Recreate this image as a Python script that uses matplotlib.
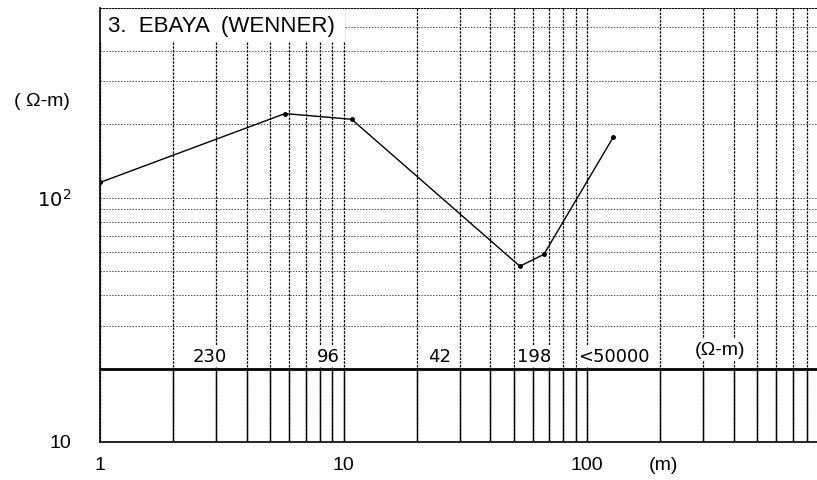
import matplotlib.pyplot as plt
from matplotlib.patches import Rectangle

# electrode spacing a (m) and apparent resistivity (ohm-m)
spacing = [1.0, 5.75, 10.8, 53.0, 66.5, 128.0]
rho_app = [115.7, 221.6, 210.0, 52.5, 58.7, 177.0]

# interpreted layer resistivities written in the strip
layer_rho = ["230", "96", "42", "198", "<50000"]
layer_pos = [2.82, 8.64, 24.9, 60.6, 129.0]

plt.rcParams['font.family'] = ['Liberation Sans', 'DejaVu Sans']

fig = plt.figure(figsize=(8.17, 4.8), dpi=100)
ax = fig.add_axes([100 / 817, 38 / 480, 717 / 817, 434 / 480])
ax.set_xscale('log')
ax.set_yscale('log')
ax.set_xlim(1, 10 ** (717 / 243.5))
ax.set_ylim(10, 600)

ax.set_axisbelow(True)
ax.grid(axis='x', which='both', color='black', ls=(0, (2, 1)), lw=0.9)
ax.grid(axis='y', which='both', color='0.3', ls=(0, (1.5, 1.5)), lw=0.7)

ax.spines['right'].set_visible(False)
ax.spines['top'].set_linestyle((0, (1.5, 1.5)))
ax.spines['top'].set_linewidth(0.7)
ax.spines['left'].set_linewidth(1.2)
ax.spines['bottom'].set_linewidth(1.2)

ax.set_xticks([1, 10, 100])
ax.set_xticklabels(['1', '10', '100'])
ax.set_yticks([10, 100])
ax.set_yticklabels(['10', r'$10^2$'])
ax.tick_params(which='both', length=0)
ax.tick_params(axis='x', pad=11, labelsize=14)
ax.tick_params(axis='y', pad=21, labelsize=14)
ax.yaxis.set_minor_formatter(plt.NullFormatter())
ax.xaxis.set_minor_formatter(plt.NullFormatter())

# layer strip: thick line at 20 and solid verticals below it
ax.axhline(20, color='black', lw=2.0, zorder=4)
xs = [v for v in list(ax.get_xticks(minor=True)) + list(ax.get_xticks())
      if 1 < v < ax.get_xlim()[1]]
ax.vlines(xs, 10, 20, color='black', lw=1.0, zorder=2)

# the curve
ax.plot(spacing, rho_app, color='black', lw=1.0, marker='o', ms=2.5, zorder=4)

# title box
ax.add_patch(Rectangle((0, 0.922), 0.342, 0.078, transform=ax.transAxes,
                       facecolor='white', edgecolor='none', zorder=1))
ax.text(0.011, 0.958, '3.  EBAYA  (WENNER)', transform=ax.transAxes,
        fontsize=16, ha='left', va='center', zorder=5)

for lab, xp in zip(layer_rho, layer_pos):
    ax.text(xp, 22.4, lab, fontsize=13, ha='center', va='center',
            family=['Liberation Sans Narrow', 'DejaVu Sans'],
            bbox=dict(facecolor='white', edgecolor='none', pad=1), zorder=3)
ax.text(352, 23.8, '(Ω-m)', fontsize=14, ha='center', va='center',
        bbox=dict(facecolor='white', edgecolor='none', pad=2), zorder=3)

fig.text(42 / 817, 1 - 101 / 480, '( Ω-m)', fontsize=14, ha='center', va='center')
fig.text(663 / 817, 1 - 466 / 480, '(m)', fontsize=14, ha='center', va='center')

fig.savefig('out.png', dpi=100)
